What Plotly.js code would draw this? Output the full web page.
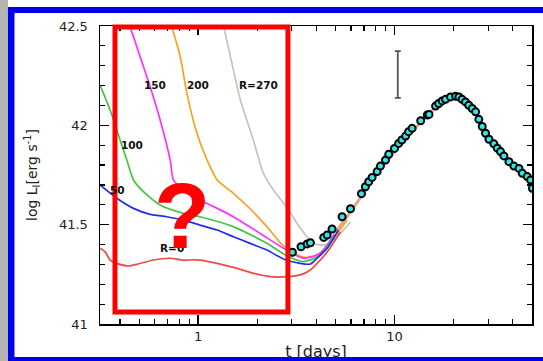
<!DOCTYPE html>
<html>
<head>
<meta charset="utf-8">
<script src="https://cdn.plot.ly/plotly-3.0.1.min.js"></script>
<style>
html,body{margin:0;padding:0;background:#fff;overflow:hidden;}
#wrap{position:relative;width:543px;height:361px;}
#chart{width:543px;height:361px;}
#bottomband{position:absolute;left:8px;top:357px;width:535px;height:4px;background:#0000f0;}
</style>
</head>
<body>
<div id="wrap"><div id="chart"></div><div id="bottomband"></div></div>
<script>
// ---- observed light curve (t in days, log L) ----
const obsT = [3.02,3.34,3.59,3.73,4.36,4.54,4.81,5.41,5.97,6.79,7.11,7.39,7.69,8.16,8.48,9.0,9.35,10.0,10.5,10.9,11.4,11.8,12.3,13.6,14.7,15.0,16.2,16.8,17.5,18.2,19.3,20.5,21.3,22.1,23.0,23.9,24.9,25.9,26.9,28.0,29.1,30.3,32.1,33.4,34.7,36.1,38.3,40.6,43.1,44.8,47.5,49.4,50.4];
const obsL = [41.361,41.389,41.403,41.409,41.436,41.448,41.478,41.540,41.580,41.656,41.691,41.716,41.738,41.767,41.795,41.825,41.854,41.884,41.909,41.926,41.946,41.968,41.985,42.023,42.052,42.055,42.097,42.110,42.123,42.131,42.143,42.146,42.143,42.131,42.118,42.101,42.085,42.068,42.030,41.994,41.960,41.930,41.907,41.885,41.868,41.846,41.817,41.795,41.783,41.759,41.742,41.725,41.683];

// ---- model curves ----
const redT = [0.316,0.335,0.356,0.385,0.441,0.486,0.592,0.720,0.826,1.02,1.25,1.51,1.91,2.33,2.84,3.31,3.73,4.10,4.62,5.30];
const redL = [41.381,41.364,41.322,41.305,41.292,41.300,41.322,41.331,41.322,41.322,41.305,41.285,41.255,41.238,41.238,41.247,41.272,41.312,41.372,41.463];
const blueT = [0.316,0.385,0.468,0.569,0.692,0.841,1.02,1.25,1.51,1.84,2.24,2.72,3.31,3.73,4.03,4.54,5.18];
const blueL = [41.700,41.633,41.582,41.552,41.540,41.523,41.498,41.473,41.439,41.406,41.372,41.327,41.305,41.302,41.331,41.381,41.473];
const greenT = [0.316,0.356,0.400,0.433,0.468,0.526,0.640,0.841,1.02,1.51,2.24,2.84,3.44,4.19,4.94];
const greenL = [42.203,42.077,41.926,41.825,41.725,41.666,41.599,41.557,41.540,41.490,41.406,41.342,41.314,41.347,41.443];
const magT = [0.450,0.506,0.569,0.640,0.720,0.748,0.876,1.02,1.25,1.51,2.07,2.72,3.44,4.19,4.94];
const magL = [42.496,42.345,42.194,42.027,41.825,41.725,41.658,41.624,41.582,41.540,41.456,41.381,41.331,41.356,41.453];
const orangeT = [0.734,0.810,0.876,0.985,1.11,1.25,1.51,1.84,2.24,2.72,3.44,4.03,4.90,5.74];
const orangeL = [42.496,42.345,42.161,41.960,41.825,41.725,41.658,41.580,41.490,41.393,41.336,41.347,41.431,41.523];
const grayT = [1.35,1.46,1.64,1.91,2.15,2.42,2.84,3.31,3.88,4.44,5.10,5.97];
const grayL = [42.496,42.345,42.127,41.926,41.758,41.674,41.584,41.483,41.405,41.398,41.439,41.513];
const sharedT = [5.0,5.97,6.79,7.72,9.0,10.0,12.1,14.4,17.2,19.3,20.7,22.2,24.4,27.5,30.9,34.7,41.4,50.0];
const sharedL = [41.46,41.564,41.644,41.725,41.810,41.866,41.961,42.042,42.112,42.142,42.148,42.132,42.092,42.017,41.926,41.861,41.785,41.700];

// ---- error bar ----
const errT = [10.4];
const errL = [42.256];
const errSize = [0.118];

// ---- labels ----
const labelText = ["150","200","R=270","100","50","R=0"];
const labelT = [0.604,1.0,2.02,0.461,0.386,0.737];
const labelL = [42.203,42.203,42.203,41.901,41.674,41.382];

const yTickVals = [41,41.5,42,42.5];
const yTickText = ["41","41.5","42","42.5"];
const yMinor = [41.1,41.2,41.3,41.4,41.6,41.7,41.8,41.9,42.1,42.2,42.3,42.4];
const xTickVals = [1,10];
const xTickText = ["1","10"];
const xMinor = [0.4,0.5,0.6,0.7,0.8,0.9,2,3,4,5,6,7,8,9,20,30,40];

function line(x,y,color,w){return {x:x,y:y,type:'scatter',mode:'lines',line:{color:color,width:w,shape:'spline',smoothing:0.6},hoverinfo:'skip',showlegend:false};}

const traces = [
  line(sharedT,sharedL,'#e0a890',3),
  line(grayT,grayL,'#c4c4c4',1.7),
  line(orangeT,orangeL,'#ffa01e',1.7),
  line(magT,magL,'#ff30ff',1.7),
  line(greenT,greenL,'#44c444',1.7),
  line(blueT,blueL,'#2030e8',1.7),
  line(redT,redL,'#f04848',1.7),
  {x:errT,y:errL,type:'scatter',mode:'markers',marker:{size:0.1,color:'rgba(0,0,0,0)'},
   error_y:{type:'data',array:errSize,visible:true,color:'#555',thickness:1.8,width:3},hoverinfo:'skip',showlegend:false},
  {x:obsT,y:obsL,type:'scatter',mode:'markers',marker:{size:7,color:'#2ee8e8',line:{color:'#000',width:2}},hoverinfo:'skip',showlegend:false}
];

const annotations = labelText.map((t,i)=>({x:Math.log10(labelT[i]),y:labelL[i],xref:'x',yref:'y',text:t,showarrow:false,
  font:{family:'DejaVu Sans',size:10.5,color:'#111',weight:'bold'},xanchor:'center',yanchor:'middle'}));
annotations.push({x:0.19,y:0.362,xref:'paper',yref:'paper',text:'?',showarrow:false,
  font:{family:'Liberation Sans',size:92,color:'#ff0000',weight:'bold'},xanchor:'center',yanchor:'middle'});

const shapes = [
  {type:'rect',xref:'paper',yref:'paper',x0:-0.2315,x1:-0.213,y0:-0.13,y1:1.09,fillcolor:'#b4b4b4',line:{width:0},layer:'above'},
  {type:'rect',xref:'paper',yref:'paper',x0:-0.213,x1:-0.198,y0:-0.13,y1:1.0638,fillcolor:'#0000f0',line:{width:0},layer:'above'},
  {type:'rect',xref:'paper',yref:'paper',x0:-0.213,x1:1.03,y0:1.0436,y1:1.0638,fillcolor:'#0000f0',line:{width:0},layer:'above'},
  {type:'rect',xref:'paper',yref:'paper',x0:0.0347,x1:0.435,y0:0.040,y1:0.9966,fillcolor:'rgba(0,0,0,0)',line:{color:'#ff0000',width:5},layer:'above'}
];

const axisCommon = {showline:true,linecolor:'#000',linewidth:1.5,mirror:'ticks',ticks:'inside',ticklen:9,tickwidth:1.5,tickcolor:'#000',
  showgrid:false,zeroline:false,tickfont:{family:'DejaVu Sans',size:13,color:'#222'}};

const layout = {
  width:543,height:361,
  margin:{l:100,r:11,t:26,b:37},
  paper_bgcolor:'#fff',plot_bgcolor:'#fff',
  showlegend:false,
  xaxis:Object.assign({},axisCommon,{type:'log',range:[Math.log10(0.316),Math.log10(50.2)],tickmode:'array',tickvals:xTickVals,ticktext:xTickText,
    ticklabelstandoff:0,
    minor:{tickmode:'array',tickvals:xMinor,ticks:'inside',ticklen:5,tickwidth:1.2,tickcolor:'#000',showgrid:false},
    title:{text:'t [days]',font:{family:'DejaVu Sans',size:16,color:'#222'},standoff:6}}),
  yaxis:Object.assign({},axisCommon,{range:[41,42.5],tickmode:'array',tickvals:yTickVals,ticktext:yTickText,
    ticklabelstandoff:8,
    minor:{tickmode:'array',tickvals:yMinor,ticks:'inside',ticklen:5,tickwidth:1.2,tickcolor:'#000',showgrid:false},
    title:{text:'log L<sub>I</sub>[erg s<sup>-1</sup>]',font:{family:'DejaVu Sans',size:14,color:'#222'},standoff:18}}),
  shapes:shapes,
  annotations:annotations
};

Plotly.newPlot('chart',traces,layout,{staticPlot:true,displayModeBar:false});
</script>
</body>
</html>
